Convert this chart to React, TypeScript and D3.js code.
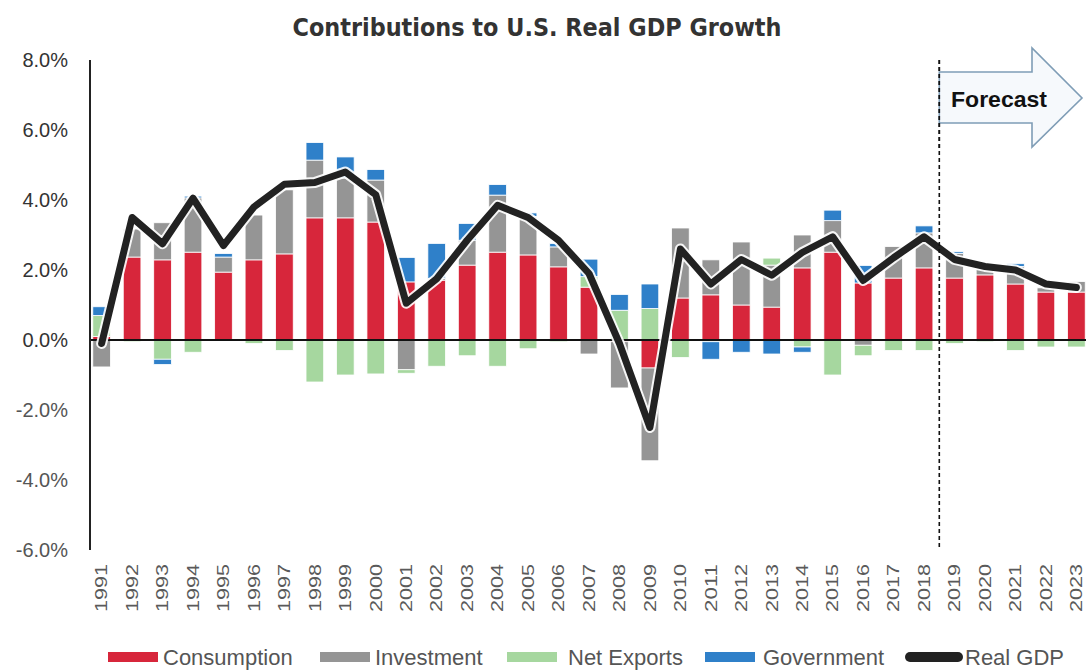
import React from 'react';
import * as d3 from 'd3';

const years = ['1991','1992','1993','1994','1995','1996','1997','1998','1999','2000','2001','2002','2003','2004','2005','2006','2007','2008','2009','2010','2011','2012','2013','2014','2015','2016','2017','2018','2019','2020','2021','2022','2023'];

const consumption = [0.1, 2.37, 2.29, 2.51, 1.94, 2.29, 2.46, 3.49, 3.49, 3.37, 1.66, 1.71, 2.14, 2.51, 2.43, 2.09, 1.51, -0.05, -0.8, 1.2, 1.29, 1.0, 0.94, 2.06, 2.51, 1.63, 1.77, 2.06, 1.77, 1.86, 1.6, 1.37, 1.37];
const investment = [-0.77, 0.8, 1.06, 1.55, 0.43, 1.28, 1.83, 1.65, 1.14, 1.2, -0.85, 0.05, 0.71, 1.63, 1.1, 0.57, -0.4, -1.32, -2.65, 2.0, 1.0, 1.8, 1.2, 0.94, 0.9, -0.15, 0.9, 1.0, 0.7, 0.15, 0.5, 0.12, 0.3];
const netExports = [0.6, -0.05, -0.55, -0.35, 0.0, -0.1, -0.3, -1.2, -1.0, -0.97, -0.1, -0.75, -0.45, -0.75, -0.25, -0.05, 0.3, 0.85, 0.9, -0.5, -0.05, 0.0, 0.2, -0.2, -1.0, -0.3, -0.3, -0.3, -0.1, -0.05, -0.3, -0.2, -0.2];
const government = [0.25, 0.0, -0.15, 0.05, 0.1, 0.0, 0.0, 0.5, 0.6, 0.3, 0.7, 1.0, 0.48, 0.3, 0.1, 0.1, 0.5, 0.45, 0.7, 0.0, -0.5, -0.35, -0.4, -0.15, 0.3, 0.5, 0.0, 0.2, 0.05, 0.0, 0.08, 0.0, 0.0];
const realGDP = [-0.1, 3.5, 2.75, 4.05, 2.7, 3.8, 4.45, 4.5, 4.8, 4.15, 1.05, 1.75, 2.85, 3.85, 3.5, 2.85, 1.9, -0.1, -2.5, 2.6, 1.6, 2.3, 1.85, 2.5, 2.95, 1.7, 2.35, 2.95, 2.3, 2.1, 2.0, 1.6, 1.5];

const yTicks = [8, 6, 4, 2, 0, -2, -4, -6];
const seriesNames = ['Consumption', 'Investment', 'Net Exports', 'Government'];
const seriesColors = ['#d7263b', '#959595', '#a6d79f', '#2f80c9'];
const lineName = 'Real GDP';
const forecastLabel = 'Forecast';
const forecastAfter = '2018';
const title = 'Contributions to U.S. Real GDP Growth';

export default function App() {
  const W = 1086, H = 670;
  const x = d3.scaleBand<string>().domain(years).range([80, 1098]).padding(0.42);
  const y = d3.scaleLinear().domain([-6, 8]).range([550, 60]);
  const cx = (yr: string) => (x(yr) as number) + x.bandwidth() / 2;

  const rows = years.map((yr, i) => ({
    year: yr,
    'Consumption': consumption[i],
    'Investment': investment[i],
    'Net Exports': netExports[i],
    'Government': government[i],
  }));
  const layers = d3.stack<any>().keys(seriesNames).offset(d3.stackOffsetDiverging)(rows);

  const line = d3.line<number>()
    .x((d, i) => cx(years[i]))
    .y(d => y(d));
  const path = line(realGDP) || '';

  const fIdx = years.indexOf(forecastAfter);
  const fx = (cx(years[fIdx]) + cx(years[fIdx + 1])) / 2;

  const legendItems = [
    { name: seriesNames[0], color: seriesColors[0], sx: 108, tx: 163 },
    { name: seriesNames[1], color: seriesColors[1], sx: 320, tx: 375 },
    { name: seriesNames[2], color: seriesColors[2], sx: 507, tx: 568 },
    { name: seriesNames[3], color: seriesColors[3], sx: 705, tx: 763 },
  ];
  const ly = 657;

  return (
    <svg width={W} height={H} style={{ position: 'absolute', left: 0, top: 0, background: '#fff' }}
      fontFamily="'Liberation Sans', Arial, sans-serif">
      <text x={537} y={36} textAnchor="middle" fontFamily="'DejaVu Sans', sans-serif" fontWeight="bold"
        fontSize={25} fill="#333" textLength={489} lengthAdjust="spacingAndGlyphs">{title}</text>

      {yTicks.map(t => (
        <text key={t} x={68} y={y(t)} dy="0.35em" textAnchor="end" fontSize={20} fill={t < 0 ? '#555' : '#333'}>
          {t.toFixed(1) + '%'}
        </text>
      ))}

      {layers.map((layer, li) => (
        <g key={layer.key} fill={seriesColors[li]}>
          {layer.map((d, i) => {
            const y0 = y(d[0]), y1 = y(d[1]);
            const h = Math.abs(y0 - y1);
            if (h < 0.01) return null;
            return (
              <rect key={i} x={x(years[i])} y={Math.min(y0, y1)} width={x.bandwidth()} height={h}
                stroke="#fff" strokeWidth={0.8} />
            );
          })}
        </g>
      ))}

      <line x1={90} x2={1086} y1={y(0)} y2={y(0)} stroke="#111" strokeWidth={2.2} />
      <line x1={90} x2={90} y1={y(8)} y2={y(-6)} stroke="#222" strokeWidth={2} />

      <path d={path} fill="none" stroke="#fff" strokeWidth={11} strokeLinejoin="round" strokeLinecap="round" opacity={0.9} />
      <path d={path} fill="none" stroke="#222" strokeWidth={7} strokeLinejoin="round" strokeLinecap="round" />

      <line x1={fx} x2={fx} y1={y(8)} y2={y(-6)} stroke="#111" strokeWidth={1.6} strokeDasharray="4,3" />
      <polygon points={`${fx},72 1032,72 1032,48 1082,98 1032,147 1032,123 ${fx},123`}
        fill="#f6f9fc" stroke="#7f9db6" strokeWidth={1.6} />
      <line x1={fx} x2={fx} y1={60} y2={150} stroke="#111" strokeWidth={1.6} strokeDasharray="4,3" />
      <text x={951} y={107} fontSize={22} fontWeight="bold" fill="#111" textLength={96} lengthAdjust="spacingAndGlyphs">{forecastLabel}</text>

      {years.map(yr => (
        <text key={yr} transform={`translate(${cx(yr)},${564}) rotate(-90)`} textAnchor="end" dy="0.35em"
          fontSize={16.5} fill="#5a5a5a" textLength={48} lengthAdjust="spacingAndGlyphs">{yr}</text>
      ))}

      {legendItems.map(it => (
        <g key={it.name}>
          <rect x={it.sx} y={ly - 5} width={50} height={10} fill={it.color} />
          <text x={it.tx} y={ly} dy="0.36em" fontSize={22} fill="#555">{it.name}</text>
        </g>
      ))}
      <line x1={910} x2={958} y1={ly} y2={ly} stroke="#222" strokeWidth={10} strokeLinecap="round" />
      <text x={965} y={ly} dy="0.36em" fontSize={22} fill="#555">{lineName}</text>
    </svg>
  );
}
